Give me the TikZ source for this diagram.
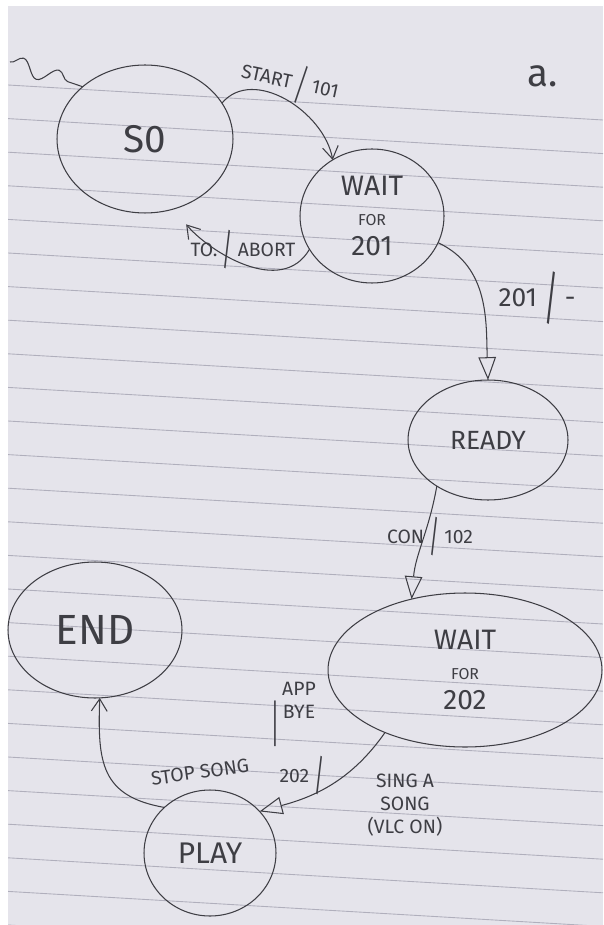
\documentclass[tikz,border=0pt]{standalone}
\usepackage{fontspec}
\setmainfont{Fira Sans}
\usetikzlibrary{arrows.meta,shapes.geometric,decorations.pathmorphing}
\definecolor{pencil}{RGB}{62,62,68}
\definecolor{papergray}{RGB}{229,228,235}
\definecolor{rulegray}{RGB}{176,175,188}
\newcommand{\trbar}{\raisebox{-0.45em}{\scalebox{1}[2.2]{/}}}
\tikzset{
  basenode/.style = {align=center, inner sep=2pt, outer sep=0pt, text=pencil},
  state_node/.style = {basenode, ellipse, draw=pencil, semithick, font=\fontsize{16}{17}\selectfont},
  label_node/.style = {basenode, font=\fontsize{11}{13}\selectfont},
  trans/.style = {draw=pencil, semithick, -{Straight Barb[length=7pt,width=9pt]}},
  trans_tri/.style = {trans, -{Triangle[open,length=13pt,width=10pt]}},
  init_line/.style = {draw=pencil, semithick, decorate, decoration={snake, amplitude=0.16cm, segment length=0.75cm}},
  rule_line/.style = {draw=rulegray, line width=0.5pt},
}

\begin{document}
\begin{tikzpicture}[x=0.02cm, y=-0.02cm]
    \useasboundingbox (0,0) rectangle (603,925);
    \fill[white] (0,0) rectangle (603,925);
    \fill[papergray] (8,6) rectangle (603,925);
    \begin{scope}
        \clip (8,6) rectangle (603,925);
        \foreach \k in {0,...,26}
            \draw[rule_line] (8,85+33.6*\k) -- (603,120+33.6*\k);
    \end{scope}

    \node [state_node, minimum width=3.52cm, minimum height=2.96cm, font=\fontsize{22}{24}\selectfont] (s0) at (145,139) {S0};
    \node [state_node, minimum width=2.88cm, minimum height=2.68cm] (wait201) at (372,216) {WAIT\\{\small FOR}\\201};
    \node [state_node, minimum width=3.2cm, minimum height=2.4cm, font=\fontsize{15}{17}\selectfont] (ready) at (488,440) {READY};
    \node [state_node, minimum width=5.48cm, minimum height=3.08cm] (wait202) at (465,670) {WAIT\\{\small FOR}\\202};
    \node [state_node, minimum width=3.48cm, minimum height=2.72cm, font=\fontsize{24}{26}\selectfont] (finish) at (95,630) {END};
    \node [state_node, minimum width=2.64cm, minimum height=2.52cm, font=\fontsize{17}{19}\selectfont] (play) at (210,853) {PLAY};

    \coordinate (init) at (10,62);
    \draw[init_line] (init) -- (s0.140);
    \draw[trans] (s0.25) to[out=50, in=100] (wait201.125);
    \draw[trans, shorten >=0.4cm] (wait201.208) to[out=240, in=-50] (s0.-68);
    \draw[trans_tri] (wait201.-22) to[out=-25, in=92] (ready.north);
    \draw[trans_tri] (ready.-138) to[out=-100, in=85] (wait202.127);
    \draw[trans_tri] (wait202.-142) to[out=-125, in=15] (play.40);
    \draw[trans] (play.135) to[out=170, in=-92, looseness=1.3] (finish.-86);

    \node [label_node, rotate=-12] (l_start) at (290,82) {START \trbar{} 101};
    \node [label_node] (l_abort) at (243,250) {TO. \trbar{} ABORT};
    \node [label_node, font=\fontsize{15}{17}\selectfont] (l_201) at (537,298) {201 \trbar{} -};
    \node [label_node] (l_con) at (430,537) {CON \trbar{} 102};
    \node [label_node] (l_202) at (302,776) {202 \trbar};
    \node [label_node] (l_sing) at (405,805) {SING A\\SONG\\(VLC ON)};
    \node [label_node, rotate=8] (l_stop) at (200,772) {STOP SONG};
    \node [label_node, inner sep=0pt] (l_bar) at (275,724) {\scalebox{1}[2.6]{|}};
    \node [label_node] (l_bye) at (299,700) {APP\\BYE};
    \node [label_node, font=\fontsize{22}{24}\selectfont] (l_a) at (543,76) {a.};
\end{tikzpicture}
\end{document}
